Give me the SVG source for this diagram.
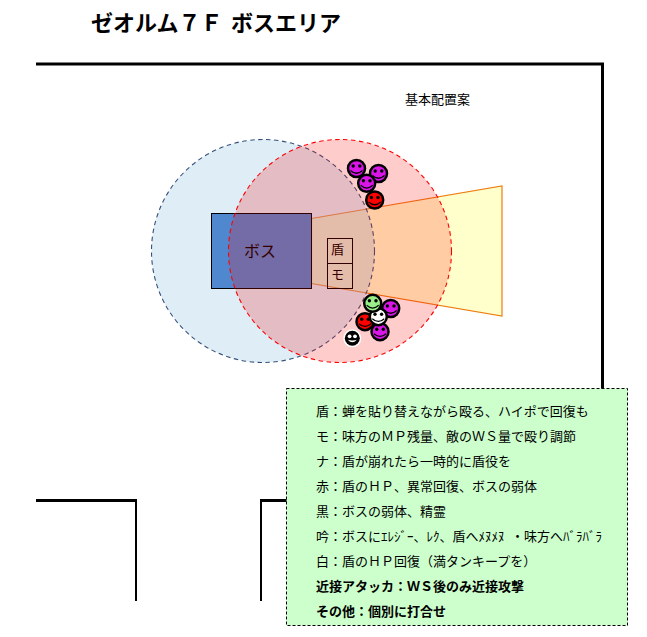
<svg xmlns="http://www.w3.org/2000/svg" width="647" height="637" viewBox="0 0 647 637">
<style>
text{font-family:"Noto Sans CJK JP","Noto Sans CJK SC",sans-serif;fill:#000}
.wall{fill:none;stroke:#000;stroke-width:3}
.thin{fill:none;stroke:#000;stroke-width:2}
.note{font-size:13px}
.b{font-weight:bold}
.face{stroke:#000;stroke-width:2.500}
.eye{fill:#000}
.mouth{fill:none;stroke:#000;stroke-width:1.200}
.cell{fill:none;stroke:#000}
</style>
<defs>
<g id="smile"><circle class="eye" cx="-3.300" cy="-2.500" r="1.700"/><circle class="eye" cx="3.300" cy="-2.500" r="1.700"/><path class="mouth" d="M-6 2Q0 7.500 6 2"/></g>
</defs>
<rect width="647" height="637" fill="#fff"/>
<text id="title" y="31" font-size="22" font-weight="bold"><tspan x="91">ゼオルム７Ｆ</tspan><tspan x="231">ボスエリア</tspan></text>
<g id="walls">
<path class="wall" d="M36 64H602.500V389"/>
<path class="wall" d="M36 500.500H136"/>
<path class="thin" d="M136 499V601"/>
<path class="wall" d="M287 500.500H261"/>
<path class="thin" d="M261 499V601"/>
</g>
<text id="plan-label" x="405" y="104" font-size="13">基本配置案</text>
<g id="cone"><path d="M311.500 218.500L502 186V316L311.500 283.500Z" fill="#ffffcc" stroke="#ed7d10" stroke-width="1.200"/></g>
<g id="range-blue"><circle cx="263" cy="251" r="111.500" fill="#a1cce5" fill-opacity=".35" stroke="#34507a" stroke-width="1.100" stroke-dasharray="4.500 3.500"/></g>
<g id="boss"><rect x="211.500" y="213.500" width="100" height="75" fill="#5088d0" stroke="#000"/><text x="244" y="257" font-size="16">ボス</text></g>
<g id="tank"><rect class="cell" x="327.500" y="238.500" width="25" height="25"/><text x="331" y="254" font-size="13">盾</text></g>
<g id="mage"><rect class="cell" x="327.500" y="263.500" width="25" height="25"/><text x="331" y="279" font-size="13">モ</text></g>
<g id="range-red"><circle cx="340" cy="251" r="111.500" fill="#f00" fill-opacity=".2" stroke="#f00" stroke-width="1.100" stroke-dasharray="4.500 3.500"/></g>
<g id="party-top">
<g transform="translate(356.500,168.500)"><circle class="face" r="8.500" fill="#d915e8"/><use href="#smile"/></g>
<g transform="translate(378.500,173.500)"><circle class="face" r="8.500" fill="#d915e8"/><use href="#smile"/></g>
<g transform="translate(366.700,183.300)"><circle class="face" r="8.500" fill="#d915e8"/><use href="#smile"/></g>
<g transform="translate(374.700,200)"><circle class="face" r="8.500" fill="#f00"/><use href="#smile"/></g>
</g>
<g id="party-bottom">
<g transform="translate(390.700,308.500)"><circle class="face" r="8.500" fill="#d915e8"/><use href="#smile"/></g>
<g transform="translate(365,321.700)"><circle class="face" r="8.500" fill="#f00"/><use href="#smile"/></g>
<g transform="translate(380,331.700)"><circle class="face" r="8.500" fill="#d915e8"/><use href="#smile"/></g>
<g transform="translate(378.300,316.700)"><circle class="face" r="8.500" fill="#fff"/><use href="#smile"/></g>
<g transform="translate(372.700,303.300)"><circle class="face" r="8.500" fill="#99ee88"/><use href="#smile"/></g>
<g transform="translate(352.300,338.300)"><circle r="9" fill="#fff"/><circle r="7.500" fill="#000"/><circle cx="-2.700" cy="-2" r="1.900" fill="#fff"/><circle cx="2.700" cy="-2" r="1.900" fill="#fff"/><path d="M-4.500 1.500Q0 6.500 4.500 1.500Q0 3 -4.500 1.500Z" fill="#fff"/></g>
</g>
<g id="legend">
<rect x="286.500" y="388.500" width="341" height="237" fill="#ccffcc" stroke="#000" stroke-dasharray="3 2"/>
<text class="note" x="316" y="416">盾：蝉を貼り替えながら殴る、ハイポで回復も</text>
<text class="note" x="316" y="441">モ：味方のＭＰ残量、敵のＷＳ量で殴り調節</text>
<text class="note" x="316" y="466">ナ：盾が崩れたら一時的に盾役を</text>
<text class="note" x="316" y="491">赤：盾のＨＰ、異常回復、ボスの弱体</text>
<text class="note" x="316" y="516">黒：ボスの弱体、精霊</text>
<text class="note" x="316" y="541">吟：ボスにｴﾚｼﾞｰ、ﾚｸ、盾へﾒﾇﾒﾇ<tspan dx="6.500">・味方へﾊﾞﾗﾊﾞﾗ</tspan></text>
<text class="note" x="316" y="566">白：盾のＨＰ回復（満タンキープを）</text>
<text class="note b" x="316" y="591">近接アタッカ：ＷＳ後のみ近接攻撃</text>
<text class="note b" x="316" y="616">その他：個別に打合せ</text>
</g>
</svg>
